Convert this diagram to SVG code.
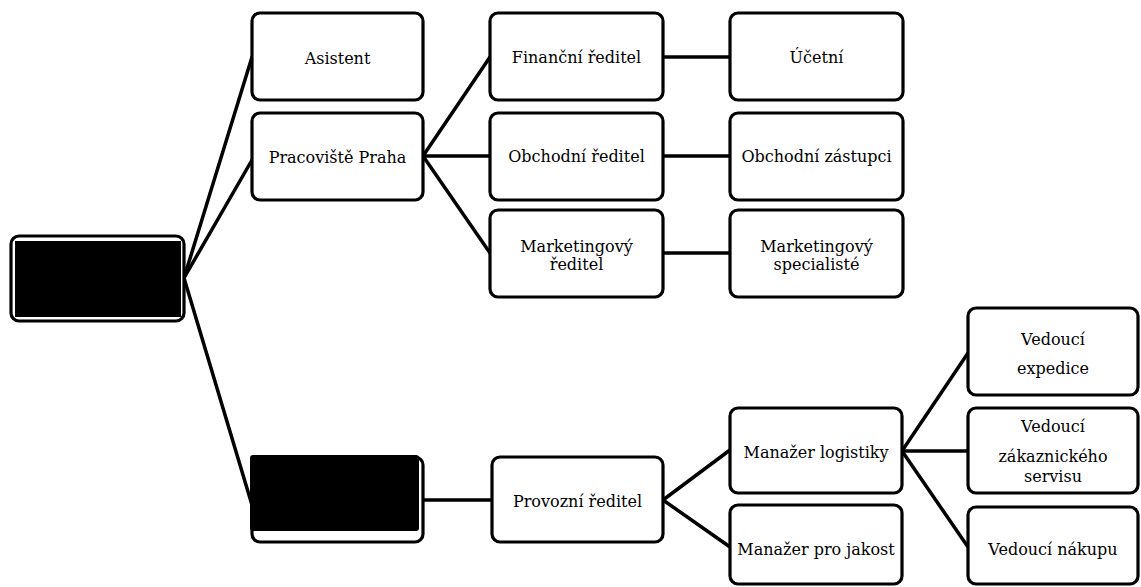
<svg xmlns="http://www.w3.org/2000/svg" width="1141" height="587" viewBox="0 0 1141 587">
<style>
.box{fill:#fff;stroke:#000;stroke-width:3.2}
.red{fill:#000}
.t{font-family:"DejaVu Serif","Liberation Serif",serif;font-size:16px;fill:#000;text-anchor:middle}
.c{stroke:#000;stroke-width:3.5;fill:none;stroke-linecap:round}
</style>
<rect width="1141" height="587" fill="#fff"/>
<g id="connectors">
<line class="c" x1="184" y1="278" x2="252" y2="57"/>
<line class="c" x1="184" y1="278" x2="252" y2="160"/>
<line class="c" x1="184" y1="278" x2="252" y2="505"/>
<line class="c" x1="423" y1="500" x2="492" y2="500"/>
<line class="c" x1="423" y1="156" x2="490" y2="57"/>
<line class="c" x1="423" y1="156" x2="490" y2="156"/>
<line class="c" x1="423" y1="156" x2="490" y2="253"/>
<line class="c" x1="663" y1="57" x2="730" y2="57"/>
<line class="c" x1="663" y1="156" x2="730" y2="156"/>
<line class="c" x1="663" y1="253" x2="730" y2="253"/>
<line class="c" x1="663" y1="500" x2="730" y2="450"/>
<line class="c" x1="663" y1="500" x2="730" y2="547"/>
<line class="c" x1="902" y1="451" x2="968" y2="353"/>
<line class="c" x1="902" y1="451" x2="968" y2="451"/>
<line class="c" x1="902" y1="451" x2="968" y2="547"/>
</g>
<g id="root">
<rect class="box" x="11" y="236" width="173" height="85" rx="8"/>
<rect class="red" x="15" y="241" width="166" height="76"/>
</g>
<g id="site2">
<rect class="box" x="252" y="457" width="171" height="85" rx="8"/>
<rect class="red" x="250" y="455" width="169" height="76" rx="3"/>
</g>
<g id="asistent">
<rect class="box" x="252" y="13" width="171" height="87" rx="8"/>
<text class="t" x="337.5" y="64">Asistent</text>
</g>
<g id="praha">
<rect class="box" x="252" y="113" width="171" height="87" rx="8"/>
<text class="t" x="337.5" y="163">Pracoviště Praha</text>
</g>
<g id="financni">
<rect class="box" x="490" y="13" width="173" height="87" rx="8"/>
<text class="t" x="576.5" y="63">Finanční ředitel</text>
</g>
<g id="obchodni">
<rect class="box" x="490" y="113" width="173" height="87" rx="8"/>
<text class="t" x="576.5" y="162">Obchodní ředitel</text>
</g>
<g id="marketing">
<rect class="box" x="490" y="210" width="173" height="87" rx="8"/>
<text class="t" x="576.5" y="252">Marketingový</text>
<text class="t" x="576.5" y="270">ředitel</text>
</g>
<g id="ucetni">
<rect class="box" x="730" y="13" width="173" height="87" rx="8"/>
<text class="t" x="816.5" y="63">Účetní</text>
</g>
<g id="zastupci">
<rect class="box" x="730" y="113" width="173" height="87" rx="8"/>
<text class="t" x="816.5" y="162">Obchodní zástupci</text>
</g>
<g id="specialiste">
<rect class="box" x="730" y="210" width="173" height="87" rx="8"/>
<text class="t" x="816.5" y="252">Marketingový</text>
<text class="t" x="816.5" y="270">specialisté</text>
</g>
<g id="provozni">
<rect class="box" x="492" y="457" width="171" height="85" rx="8"/>
<text class="t" x="577.5" y="507">Provozní ředitel</text>
</g>
<g id="logistika">
<rect class="box" x="730" y="408" width="172" height="85" rx="8"/>
<text class="t" x="816" y="458">Manažer logistiky</text>
</g>
<g id="jakost">
<rect class="box" x="730" y="505" width="172" height="79" rx="8"/>
<text class="t" x="816" y="555">Manažer pro jakost</text>
</g>
<g id="expedice">
<rect class="box" x="968" y="308" width="170" height="87" rx="8"/>
<text class="t" x="1053" y="345">Vedoucí</text>
<text class="t" x="1053" y="374">expedice</text>
</g>
<g id="servis">
<rect class="box" x="968" y="408" width="170" height="85" rx="8"/>
<text class="t" x="1053" y="432">Vedoucí</text>
<text class="t" x="1053" y="462">zákaznického</text>
<text class="t" x="1053" y="482">servisu</text>
</g>
<g id="nakup">
<rect class="box" x="968" y="507" width="170" height="77" rx="8"/>
<text class="t" x="1053" y="555">Vedoucí nákupu</text>
</g>
</svg>
